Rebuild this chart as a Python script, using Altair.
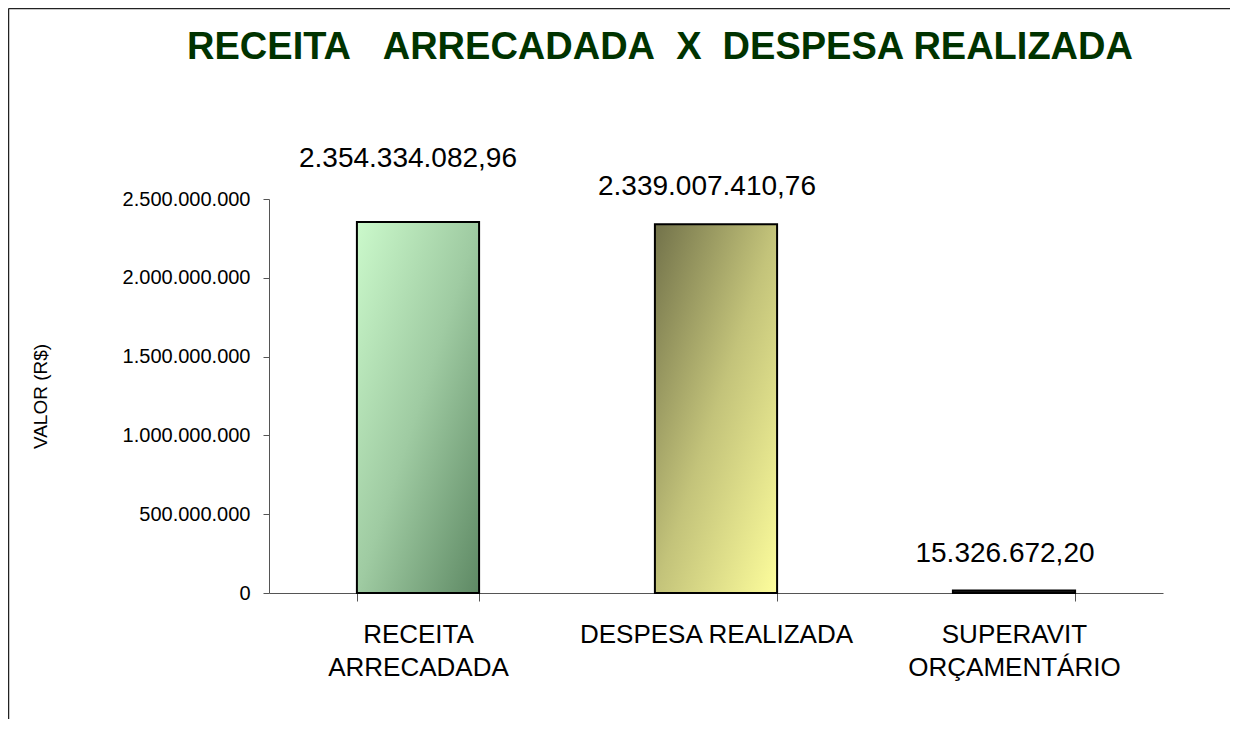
import altair as alt
import pandas as pd

# ---- data ----
categories = ["RECEITA\nARRECADADA", "DESPESA REALIZADA", "SUPERAVIT\nORÇAMENTÁRIO"]
values = [2354334082.96, 2339007410.76, 15326672.20]
order = [0, 1, 2]
y_ticks = [0, 500000000, 1000000000, 1500000000, 2000000000, 2500000000]
y_domain = [0, 2500000000]
title_text = "RECEITA\u00a0\u00a0\u00a0ARRECADADA\u00a0\u00a0X\u00a0\u00a0DESPESA REALIZADA"
y_title = "VALOR (R$)"

df = pd.DataFrame({"categoria": categories, "valor": values, "ordem": order})

FONT = "Liberation Sans"
AX = "#555555"
W, H = 894, 394
PAD = {"left": 261, "top": 191, "right": 67, "bottom": 126}

grad_green = {
    "gradient": "linear", "x1": 0, "y1": 0, "x2": 1, "y2": 1,
    "stops": [{"offset": 0, "color": "#cbf9cb"},
              {"offset": 0.5, "color": "#9fcba2"},
              {"offset": 1, "color": "#5e8964"}],
}
grad_yellow = {
    "gradient": "linear", "x1": 0, "y1": 0, "x2": 1, "y2": 1,
    "stops": [{"offset": 0, "color": "#72724a"},
              {"offset": 0.5, "color": "#c3c37a"},
              {"offset": 1, "color": "#fdfd9c"}],
}

x_enc = alt.X(
    "categoria:N",
    sort=categories,
    scale=alt.Scale(paddingInner=0.59, paddingOuter=0.295),
    axis=alt.Axis(
        title=None, labelAngle=0,
        labelExpr="split(datum.label, '\\n')",
        labelFont=FONT, labelFontSize=26, labelColor="black",
        labelLineHeight=33, labelPadding=20, labelLimit=0,
        tickSize=8, tickBand="extent",
        domainColor=AX, tickColor=AX, domainWidth=1, tickWidth=1,
    ),
)
y_enc = alt.Y(
    "valor:Q",
    scale=alt.Scale(domain=y_domain, nice=False),
    axis=alt.Axis(
        values=y_ticks, format=",.0f", grid=False, labelLimit=0,
        labelFont=FONT, labelFontSize=20, labelColor="black", labelPadding=13,
        tickSize=6, domainColor=AX, tickColor=AX, domainWidth=1, tickWidth=1,
        title=y_title, titleFont=FONT, titleFontSize=19, titleFontWeight="normal",
        titleColor="black", titleX=-229, titleY=H / 2, titleAngle=270,
        titleAlign="center", titleBaseline="middle",
    ),
)

base = alt.Chart(df)

bar1 = base.transform_filter(alt.datum.ordem == 0).mark_bar(
    fill=grad_green, stroke="black", strokeWidth=2
).encode(x=x_enc, y=y_enc)
bar2 = base.transform_filter(alt.datum.ordem == 1).mark_bar(
    fill=grad_yellow, stroke="black", strokeWidth=2
).encode(x=x_enc, y=y_enc)
bar3 = base.transform_filter(alt.datum.ordem == 2).mark_bar(
    fill="#222222", stroke="black", strokeWidth=2
).encode(x=x_enc, y=y_enc)

txt_fmt = alt.Text("valor:Q", format=",.2f")
lab1 = base.transform_filter(alt.datum.ordem == 0).mark_text(
    font=FONT, fontSize=28, color="black", baseline="alphabetic", dy=-55, dx=-10
).encode(x=x_enc, y=y_enc, text=txt_fmt)
lab23 = base.transform_filter(alt.datum.ordem > 0).mark_text(
    font=FONT, fontSize=28, color="black", baseline="alphabetic", dy=-29, dx=-9
).encode(x=x_enc, y=y_enc, text=txt_fmt)

one = alt.Data(values=[{}])
title_mark = alt.Chart(one).mark_text(
    text=title_text, font=FONT, fontSize=38, fontWeight="bold",
    color="#003300", align="center", baseline="alphabetic"
).encode(x=alt.value(391), y=alt.value(-140))

frame_left = alt.Chart(one).mark_rule(color="#222222", strokeWidth=1.5).encode(
    x=alt.value(-PAD["left"] + 0.5), y=alt.value(-PAD["top"] + 0.5),
    y2=alt.value(H + PAD["bottom"])
)
frame_top = alt.Chart(one).mark_rule(color="#222222", strokeWidth=1.5).encode(
    x=alt.value(-PAD["left"] + 0.5), x2=alt.value(W + PAD["right"]),
    y=alt.value(-PAD["top"] + 0.5)
)

chart = alt.layer(
    frame_left, frame_top, title_mark, bar1, bar2, bar3, lab1, lab23
).properties(
    width=W, height=H,
    autosize=alt.AutoSizeParams(type="none"),
    padding=PAD,
).configure(
    font=FONT,
    locale={"number": {"decimal": ",", "thousands": ".", "grouping": [3],
                       "currency": ["R$ ", ""]}},
).configure_view(strokeWidth=0)

chart.save("out.html", embed_options={"renderer": "svg", "actions": False})
